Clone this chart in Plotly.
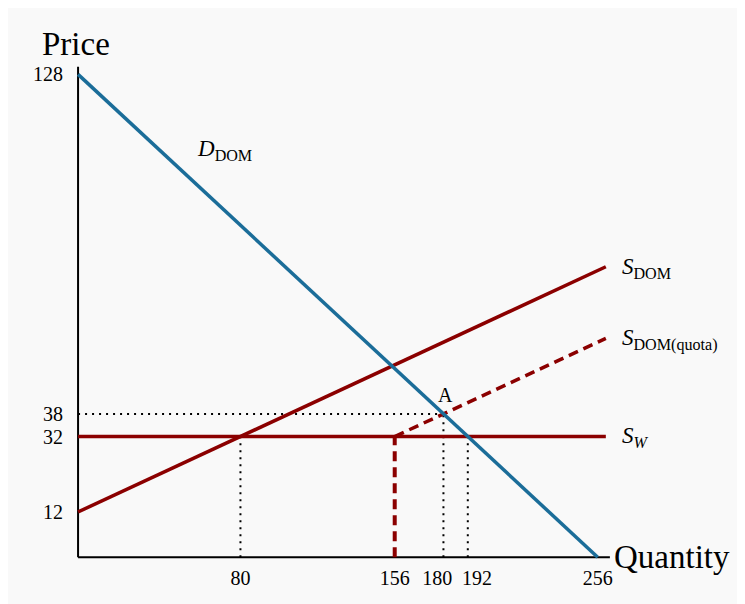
import plotly.graph_objects as go

# curves: (x, y) end points
demand_x = [0, 256]
demand_y = [128, 0]
supply_dom_x = [0, 260]
supply_dom_y = [12, 77]
supply_quota_x = [156, 260]
supply_quota_y = [32, 58]
world_x = [0, 260]
world_y = [32, 32]

# guide lines
quota_qty = 156
world_price = 32
quota_price = 38
point_a_qty = 180
dom_qty_world = 80
demand_qty_world = 192

x_ticks = [80, 156, 180, 192, 256]
y_ticks = [12, 32, 38, 128]

BLUE = "#1b6d99"
RED = "#8b0000"
FONT = "Liberation Serif"

fig = go.Figure()

def guide(xs, ys, color="black", width=2, dash="2px,5px"):
    fig.add_trace(go.Scatter(x=xs, y=ys, mode="lines",
                             line=dict(color=color, width=width, dash=dash),
                             hoverinfo="skip", showlegend=False))

# dotted helpers
guide([0, point_a_qty], [quota_price, quota_price])
guide([dom_qty_world, dom_qty_world], [0, world_price])
guide([point_a_qty, point_a_qty], [0, quota_price])
guide([demand_qty_world, demand_qty_world], [0, world_price])

# axes
guide([0, 0], [0, 130], width=2, dash="solid")
guide([0, 262], [0, 0], width=2, dash="solid")

# quota cut-off
guide([quota_qty, quota_qty], [0, world_price], color=RED, width=4, dash="10px,6px")

# curves
guide(world_x, world_y, color=RED, width=3.5, dash="solid")
guide(supply_dom_x, supply_dom_y, color=RED, width=3.5, dash="solid")
guide(supply_quota_x, supply_quota_y, color=RED, width=3.5, dash="10px,6px")
guide(demand_x, demand_y, color=BLUE, width=3.5, dash="solid")

labels = [
    (57.6, 108, "<i>D</i><sub>DOM</sub>", 23, "left"),
    (180.8, 43, "A", 20, "center"),
    (267, 76.6, "<i>S</i><sub>DOM</sub>", 23, "left"),
    (267, 57.6, "<i>S</i><sub>DOM(quota)</sub>", 23, "left"),
    (267, 31.8, "<i>S</i><sub><i>W</i></sub>", 23, "left"),
    (-1, 136, "Price", 33, "center"),
    (263, 0, "Quantity", 33, "left"),
]
for x, y, text, size, anchor in labels:
    fig.add_annotation(x=x, y=y, text=text, showarrow=False, xanchor=anchor,
                       yanchor="middle", font=dict(family=FONT, size=size, color="black"))

# 180 and 192 labels are pushed apart a little so they don't collide
nudge = {180: -3, 192: 4.5}
fig.update_layout(
    width=745, height=604,
    margin=dict(l=66, r=0, t=0, b=51),
    paper_bgcolor="#f9f9f9", plot_bgcolor="rgba(0,0,0,0)",
    font=dict(family=FONT, size=20, color="black"),
    xaxis=dict(range=[-2, 332.5], tickvals=[v + nudge.get(v, 0) for v in x_ticks],
               ticktext=[str(v) for v in x_ticks], showgrid=False, zeroline=False,
               showline=False, ticks="", tickangle=0, ticklabelstandoff=3),
    yaxis=dict(range=[-1, 145.6], tickvals=y_ticks, showgrid=False, zeroline=False,
               showline=False, ticks="", ticklabelstandoff=10),
)

fig.write_html("out.html")
